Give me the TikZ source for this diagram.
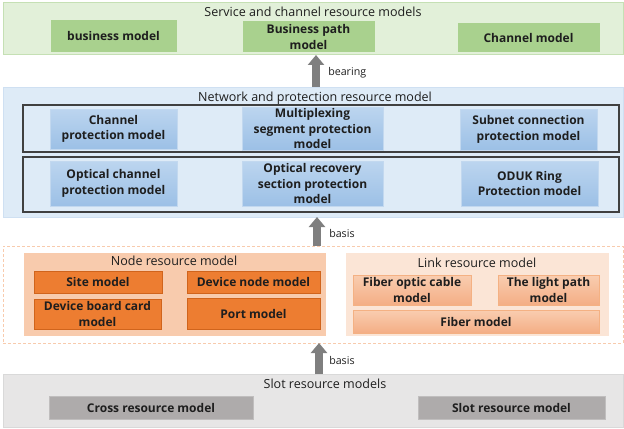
\documentclass[tikz,border=0pt]{standalone}
\usepackage{fontspec}
\setmainfont{Open Sans}
\usetikzlibrary{arrows.meta}

\definecolor{gband}{HTML}{E2F0D9}
\definecolor{gbandline}{HTML}{C5E0B4}
\definecolor{gbox}{HTML}{A9D18E}
\definecolor{bband}{HTML}{DEEBF7}
\definecolor{bbandline}{HTML}{CFE0F2}
\definecolor{bboxtop}{HTML}{BCD5EF}
\definecolor{bboxbot}{HTML}{9CC0E6}
\definecolor{bboxline}{HTML}{C2D8EF}
\definecolor{frameline}{HTML}{404040}
\definecolor{dashline}{HTML}{F8CBAD}
\definecolor{nband}{HTML}{F8CBAD}
\definecolor{obox}{HTML}{ED7D31}
\definecolor{oboxline}{HTML}{D0641C}
\definecolor{lband}{HTML}{FBE5D6}
\definecolor{pboxtop}{HTML}{F9CDB0}
\definecolor{pboxbot}{HTML}{F4AE85}
\definecolor{pboxline}{HTML}{F4B183}
\definecolor{sband}{HTML}{E7E6E6}
\definecolor{sbandline}{HTML}{D9D9D9}
\definecolor{sbox}{HTML}{AEABAB}
\definecolor{sboxline}{HTML}{C0BEBE}
\definecolor{arrowgray}{HTML}{7F7F7F}
\definecolor{ink}{HTML}{1E1E1E}

% box placed by its corner coordinates (in pixels)
\newcommand\place[7]{%
  \node[#6, minimum width={(#4-#2)*0.75pt}, minimum height={(#5-#3)*0.75pt}]
    (#1) at ({(#2+#4)/2},{(#3+#5)/2}) {#7};}

\begin{document}
\begin{tikzpicture}[x=0.75pt,y=-0.75pt,
  every node/.style={text=ink},
  base/.style={inner sep=0pt, outer sep=0pt, align=center, line width=0.75pt},
  boxtext/.style={font=\fontsize{9}{11.5}\selectfont\bfseries},
  title/.style={inner sep=0pt, font=\fontsize{9.4}{11}\selectfont},
  lbl/.style={inner sep=0pt, anchor=west, font=\fontsize{8}{10}\selectfont},
  greenband/.style={base, fill=gband, draw=gbandline},
  greenbox/.style={base, boxtext, fill=gbox, draw=gbox},
  blueband/.style={base, fill=bband, draw=bbandline},
  frame/.style={base, draw=frameline, line width=1pt},
  bluebox/.style={base, boxtext, top color=bboxtop, bottom color=bboxbot, draw=bboxline},
  dashframe/.style={base, draw=dashline, dash pattern=on 2.25pt off 1.5pt},
  nodeband/.style={base, fill=nband, draw=nband},
  orangebox/.style={base, boxtext, fill=obox, draw=oboxline},
  linkband/.style={base, fill=lband, draw=lband},
  peachbox/.style={base, boxtext, top color=pboxtop, bottom color=pboxbot, draw=pboxline},
  grayband/.style={base, fill=sband, draw=sbandline},
  graybox/.style={base, boxtext, fill=sbox, draw=sboxline},
  bigarrow/.style={draw=arrowgray, line width=6pt, -{Triangle[width=12pt,length=7.5pt]}}
]
\useasboundingbox (0,0) rectangle (624,428);

% service and channel layer
\place{svc}{3}{3}{623}{55}{greenband}{}
\node[title] (svct) at (313,12) {Service and channel resource models};
\place{bm}{51}{21}{176}{52}{greenbox}{business model}
\place{bpm}{243}{22}{374}{52}{greenbox}{Business path\\model}
\place{cm}{458}{24}{599}{52}{greenbox}{Channel model}

% network and protection layer
\place{net}{3}{87}{623}{217}{blueband}{}
\node[title] (nett) at (315,98) {Network and protection resource model};
\place{pf1}{23}{105}{619}{152}{frame}{}
\place{pf2}{23}{157}{619}{212}{frame}{}
\place{cp}{50}{109}{177}{149}{bluebox}{Channel\\protection model}
\place{msp}{242}{107}{383}{150}{bluebox}{Multiplexing\\segment protection\\model}
\place{snc}{460}{109}{597}{150}{bluebox}{Subnet connection\\protection model}
\place{ocp}{50}{161}{177}{206}{bluebox}{Optical channel\\protection model}
\place{orp}{242}{161}{383}{206}{bluebox}{Optical recovery\\section protection\\model}
\place{oduk}{461}{161}{598}{206}{bluebox}{ODUK Ring\\Protection model}

% node and link layer
\place{res}{3}{246}{623}{343}{dashframe}{}
\place{nrm}{24}{253}{325}{335}{nodeband}{}
\node[title] (nrmt) at (174,261) {Node resource model};
\place{site}{34}{271}{162}{293}{orangebox}{Site model}
\place{dev}{187}{271}{320}{293}{orangebox}{Device node model}
\place{board}{34}{299}{161}{329}{orangebox}{Device board card\\model}
\place{port}{187}{298}{320}{329}{orangebox}{Port model}
\place{lrm}{346}{253}{608}{335}{linkband}{}
\node[title] (lrmt) at (477,263) {Link resource model};
\place{cable}{353}{275}{471}{305}{peachbox}{Fiber optic cable\\model}
\place{lp}{498}{275}{599}{305}{peachbox}{The light path\\model}
\place{fiber}{353}{310}{599}{333}{peachbox}{Fiber model}

% slot layer
\place{slot}{3}{374}{623}{427}{grayband}{}
\node[title] (slott) at (325,384) {Slot resource models};
\place{cross}{49}{396}{253}{419}{graybox}{Cross resource model}
\place{slotm}{418}{396}{605}{419}{graybox}{Slot resource model}

% arrows between layers
\coordinate (ax1) at (316,0);
\coordinate (ax2) at (317,0);
\coordinate (ax3) at (319,0);
\draw[bigarrow] (net.north -| ax1) -- (svc.south -| ax1);
\node[lbl] (l1) at (328,73) {bearing};
\draw[bigarrow] (res.north -| ax2) -- (net.south -| ax2);
\node[lbl] (l2) at (329,233) {basis};
\draw[bigarrow] (slot.north -| ax3) -- (res.south -| ax3);
\node[lbl] (l3) at (329,360) {basis};
\end{tikzpicture}
\end{document}
